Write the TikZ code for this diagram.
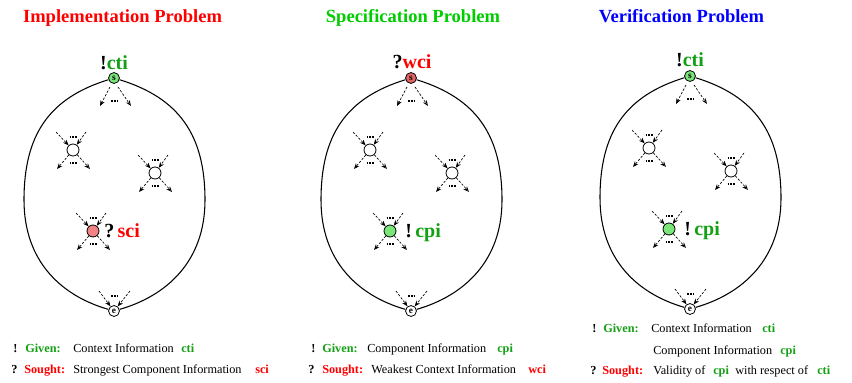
\documentclass[tikz,border=0pt]{standalone}
\usepackage{fontspec}
\setmainfont{Liberation Serif}
\usetikzlibrary{arrows.meta}
\definecolor{tgreen}{RGB}{0,205,0}
\definecolor{lgreen}{RGB}{20,160,20}
\definecolor{tred}{RGB}{255,0,0}
\definecolor{tblue}{RGB}{0,0,255}
\definecolor{nodegreen}{RGB}{120,230,120}
\definecolor{nodepink}{RGB}{240,130,130}
\definecolor{nodered}{RGB}{228,100,100}
\tikzset{
  blob/.style={line width=0.8pt},
  stnode/.style={circle, draw, line width=0.6pt, inner sep=0pt, minimum size=8.2pt, fill=white, font=\fontsize{7}{7}\selectfont\bfseries},
  inode/.style={circle, draw, line width=0.6pt, inner sep=0pt, minimum size=9pt, fill=white},
  ray/.style={dash pattern=on 1.8pt off 1.2pt, line width=0.5pt, -{Stealth[length=4.3pt,width=3.4pt]}},
  rayopen/.style={dash pattern=on 1.8pt off 1.2pt, line width=0.5pt, -{Stealth[open,length=4.3pt,width=3.4pt]}},
  dotbar/.style={line width=1.4pt, dash pattern=on 1.3pt off 0.8pt},
  ttl/.style={font=\fontsize{13.9}{16}\selectfont\bfseries, anchor=base, inner sep=0pt},
  biglab/.style={font=\fontsize{15}{17}\selectfont\bfseries, inner sep=0pt},
  small/.style={font=\fontsize{9.2}{11}\selectfont, anchor=base west, inner sep=0pt},
  smallb/.style={font=\fontsize{9.2}{11}\selectfont\bfseries, anchor=base west, inner sep=0pt},
}
\newcommand\innernode[3]{%
  \node[inode,fill=#3] (#1) at #2 {};
  \draw[ray] ([shift={(-17,-18)}]#1.center) -- (#1);
  \draw[ray] ([shift={(13,-18)}]#1.center) -- (#1);
  \draw[ray] (#1) -- ([shift={(-16,19)}]#1.center);
  \draw[rayopen] (#1) -- ([shift={(17,19)}]#1.center);
  \draw[dotbar] ([shift={(-3.5,-13)}]#1.center) -- ([shift={(3.5,-13)}]#1.center);
  \draw[dotbar] ([shift={(-3.5,13)}]#1.center) -- ([shift={(3.5,13)}]#1.center);
}
\newcommand\drawpanel[3]{%
  \node[stnode,fill=#2] (#1s) at (0,78) {s};
  \node[stnode] (#1e) at (0,311) {e};
  \draw[blob] (#1s) .. controls (-65,98) and (-90,135) .. (-90,200)
                    .. controls (-90,262) and (-52,296) .. (#1e);
  \draw[blob] (#1s) .. controls (65,98) and (91,135) .. (91,200)
                    .. controls (91,262) and (52,296) .. (#1e);
  \draw[ray] ([shift={(-4,9)}]#1s.center) -- ([shift={(-14,28)}]#1s.center);
  \draw[rayopen] ([shift={(4,9)}]#1s.center) -- ([shift={(17,28)}]#1s.center);
  \draw[dotbar] ([shift={(-3,23)}]#1s.center) -- ([shift={(4,23)}]#1s.center);
  \draw[ray] ([shift={(-15,-20)}]#1e.center) -- (#1e);
  \draw[ray] ([shift={(16,-20)}]#1e.center) -- (#1e);
  \draw[dotbar] ([shift={(-3,-15)}]#1e.center) -- ([shift={(4,-15)}]#1e.center);
  \innernode{#1a}{(-41,150)}{white}
  \innernode{#1b}{(41,173)}{white}
  \innernode{#1c}{(-21,231)}{#3}
}
\begin{document}
\begin{tikzpicture}[x=0.75pt,y=-0.75pt]
\useasboundingbox (0,0) rectangle (852,382);
% titles
\node[ttl, text=tred]   (t1) at (122.5,22) {Implementation Problem};
\node[ttl, text=tgreen] (t2) at (413,22)   {Specification Problem};
\node[ttl, text=tblue]  (t3) at (681.5,22) {Verification Problem};
% panel 1
\begin{scope}[shift={(114,0)}]
  \drawpanel{p}{nodegreen}{nodepink}
\end{scope}
\node[biglab, anchor=base] (pl) at ([shift={(0,-9)}]ps.center) {!\textcolor{lgreen}{cti}};
\node[biglab, anchor=base west] (pcl) at ([shift={(11,6)}]pc.center) {?\,\textcolor{tred}{sci}};
% panel 2
\begin{scope}[shift={(411,0)}]
  \drawpanel{q}{nodered}{nodegreen}
\end{scope}
\node[biglab, anchor=base] (ql) at ([shift={(1,-10)}]qs.center) {?\textcolor{tred}{wci}};
\node[biglab, anchor=base west] (qcl) at ([shift={(15,6)}]qc.center) {!\,\textcolor{lgreen}{cpi}};
% panel 3
\begin{scope}[shift={(690,-2)}]
  \drawpanel{r}{nodegreen}{nodegreen}
\end{scope}
\node[biglab, anchor=base] (rl) at ([shift={(0,-10)}]rs.center) {!\textcolor{lgreen}{cti}};
\node[biglab, anchor=base west] (rcl) at ([shift={(15,6)}]rc.center) {!\,\textcolor{lgreen}{cpi}};
% bottom texts panel 1
\node[smallb] (a1) at (13,352) {!};
\node[smallb, text=lgreen] (a2) at (25,352) {Given:};
\node[small] (a3) at (73,352) {Context Information};
\node[smallb, text=lgreen] (a4) at (181,352) {cti};
\node[smallb] (a5) at (11,373) {?};
\node[smallb, text=tred] (a6) at (24,373) {Sought:};
\node[small] (a7) at (73,373) {Strongest Component Information};
\node[smallb, text=tred] (a8) at (255,373) {sci};
% bottom texts panel 2
\node[smallb] (b1) at (311,352) {!};
\node[smallb, text=lgreen] (b2) at (322,352) {Given:};
\node[small] (b3) at (367,352) {Component Information};
\node[smallb, text=lgreen] (b4) at (497,352) {cpi};
\node[smallb] (b5) at (308,373) {?};
\node[smallb, text=tred] (b6) at (322,373) {Sought:};
\node[small] (b7) at (371,373) {Weakest Context Information};
\node[smallb, text=tred] (b8) at (528,373) {wci};
% bottom texts panel 3
\node[smallb] (c1) at (592,332) {!};
\node[smallb, text=lgreen] (c2) at (603,332) {Given:};
\node[small] (c3) at (651,332) {Context Information};
\node[smallb, text=lgreen] (c4) at (762,332) {cti};
\node[small] (c5) at (653,354) {Component Information};
\node[smallb, text=lgreen] (c6) at (780,354) {cpi};
\node[smallb] (c7) at (590,374) {?};
\node[smallb, text=tred] (c8) at (602,374) {Sought:};
\node[small] (c9) at (653,374) {Validity of};
\node[smallb, text=lgreen] (c10) at (713,374) {cpi};
\node[small] (c11) at (735,374) {with respect of};
\node[smallb, text=lgreen] (c12) at (817,374) {cti};
\end{tikzpicture}
\end{document}
